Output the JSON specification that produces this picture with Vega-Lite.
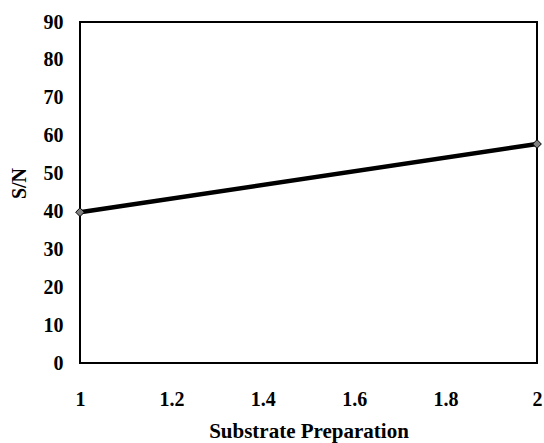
{
  "$schema": "https://vega.github.io/schema/vega-lite/v6.json",
  "autosize": "none",
  "width": 457,
  "height": 341,
  "padding": {"left": 80, "top": 22, "right": 7, "bottom": 80},
  "background": "white",
  "config": {
    "view": {"stroke": "black", "strokeWidth": 2},
    "font": "Liberation Serif",
    "axis": {
      "domain": false,
      "ticks": false,
      "grid": false,
      "labelFlush": false,
      "labelBound": false,
      "labelOverlap": false,
      "labelFont": "Liberation Serif",
      "labelFontWeight": "bold",
      "labelFontSize": 20,
      "labelColor": "black",
      "titleFont": "Liberation Serif",
      "titleFontWeight": "bold",
      "titleFontSize": 21,
      "titleColor": "black"
    }
  },
  "data": {"values": [
    {"prep": 1, "sn": 39.8},
    {"prep": 2, "sn": 57.8}
  ]},
  "encoding": {
    "x": {"field": "prep", "type": "quantitative", "scale": {"domain": [1, 2], "nice": false}, "axis": {"values": [1, 1.2, 1.4, 1.6, 1.8, 2], "format": "~g", "labelOverlap": false, "labelPadding": 26, "title": "Substrate Preparation", "titlePadding": 11}},
    "y": {"field": "sn", "type": "quantitative", "scale": {"domain": [0, 90], "nice": false}, "axis": {"values": [0, 10, 20, 30, 40, 50, 60, 70, 80, 90], "labelOverlap": false, "labelPadding": 17, "title": "S/N", "titlePadding": 14, "titleFontSize": 20, "titleY": 161}}
  },
  "layer": [
    {
      "mark": {"type": "line", "color": "black", "strokeWidth": 4.5}
    },
    {
      "mark": {"type": "point", "shape": "diamond", "filled": true, "fill": "#7f7f7f", "stroke": "black", "strokeWidth": 1, "size": 75, "opacity": 1}
    }
  ]
}
